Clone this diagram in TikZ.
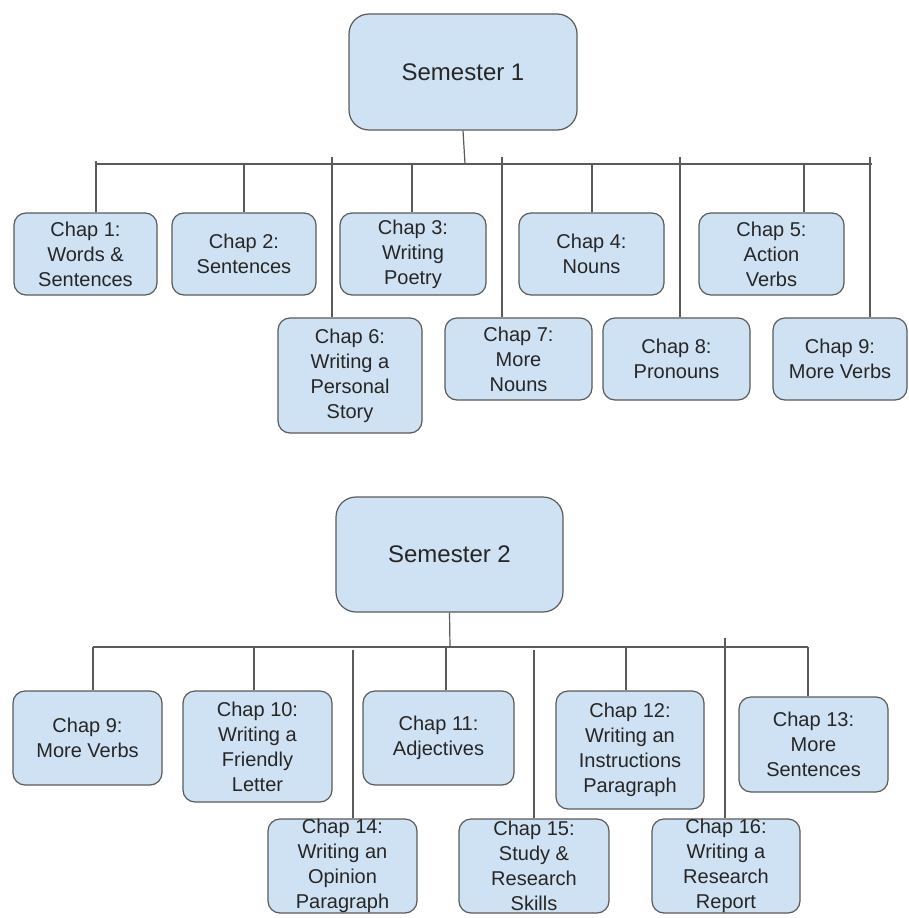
\documentclass[tikz,border=0pt]{standalone}
\usepackage{fontspec}
\setmainfont{Liberation Sans}
\definecolor{boxfill}{HTML}{CFE2F3}
\definecolor{boxline}{HTML}{5A5A5A}
\definecolor{txt}{HTML}{262626}
\begin{document}
\begin{tikzpicture}[x=1pt,y=-1pt,
  box/.style={draw=boxline, fill=boxfill, rounded corners=12pt, line width=1.2pt,
    align=center, inner sep=0pt, text=txt, font=\fontsize{20}{25}\selectfont},
  sem/.style={box, rounded corners=20pt, font=\fontsize{24}{29}\selectfont},
  wire/.style={draw=boxline, line width=1.2pt}]
\useasboundingbox (0,0) rectangle (909,918);

% ---------- Semester 1 ----------
\node[sem, minimum width=228pt, minimum height=116pt] (s1) at (463,72) {Semester 1};
\node[box, minimum width=143pt, minimum height=82pt] (c1) at (85.5,254) {Chap 1:\\Words \&\\Sentences};
\node[box, minimum width=144pt, minimum height=82pt] (c2) at (244,254) {Chap 2:\\Sentences};
\node[box, minimum width=146pt, minimum height=82pt] (c3) at (413,254) {Chap 3:\\Writing\\Poetry};
\node[box, minimum width=145pt, minimum height=82pt] (c4) at (591.5,254) {Chap 4:\\Nouns};
\node[box, minimum width=145pt, minimum height=82pt] (c5) at (771.5,254) {Chap 5:\\Action\\Verbs};
\node[box, minimum width=144pt, minimum height=115pt] (c6) at (350,375.5) {Chap 6:\\Writing a\\Personal\\Story};
\node[box, minimum width=147pt, minimum height=82pt] (c7) at (518.5,359) {Chap 7:\\More\\Nouns};
\node[box, minimum width=147pt, minimum height=82pt] (c8) at (676.5,359) {Chap 8:\\Pronouns};
\node[box, minimum width=134pt, minimum height=82pt] (c9) at (840,359) {Chap 9:\\More Verbs};

\coordinate (b1L) at (96,164);
\coordinate (b1R) at (872,164);
\coordinate (b1T) at (465,164);
\draw[wire] (b1L) -- (b1R);
\draw[wire] (s1.south) -- (b1T);
\coordinate (k1) at (96,161);
\coordinate (k2) at (244,164);
\coordinate (k3) at (412,164);
\coordinate (k4) at (592,164);
\coordinate (k5) at (804,164);
\coordinate (k6) at (332,157);
\coordinate (k7) at (502,157);
\coordinate (k8) at (680,157);
\coordinate (k9) at (870,157);
\foreach \i in {1,...,9} { \draw[wire] (k\i) -- (k\i |- c\i.north); }

% ---------- Semester 2 ----------
\node[sem, minimum width=227pt, minimum height=115pt] (s2) at (449.5,554.5) {Semester 2};
\node[box, minimum width=149pt, minimum height=94pt] (d9) at (87.5,738) {Chap 9:\\More Verbs};
\node[box, minimum width=149pt, minimum height=111pt] (d10) at (257.5,746.5) {Chap 10:\\Writing a\\Friendly\\Letter};
\node[box, minimum width=151pt, minimum height=94pt] (d11) at (438.5,738) {Chap 11:\\Adjectives};
\node[box, minimum width=148pt, minimum height=118pt] (d12) at (630,750) {Chap 12:\\Writing an\\Instructions\\Paragraph};
\node[box, minimum width=149pt, minimum height=95pt] (d13) at (813.5,744.5) {Chap 13:\\More\\Sentences};
\node[box, minimum width=149pt, minimum height=94pt] (d14) at (342.5,866) {Chap 14:\\Writing an\\Opinion\\Paragraph};
\node[box, minimum width=150pt, minimum height=94pt] (d15) at (534,866) {Chap 15:\\Study \&\\Research\\Skills};
\node[box, minimum width=148pt, minimum height=94pt] (d16) at (726,866) {Chap 16:\\Writing a\\Research\\Report};

\coordinate (b2L) at (93,647);
\coordinate (b2R) at (808,647);
\coordinate (b2T) at (450,647);
\draw[wire] (b2L) -- (b2R);
\draw[wire] (s2.south) -- (b2T);
\coordinate (m9) at (93,647);
\coordinate (m10) at (254,647);
\coordinate (m11) at (446,647);
\coordinate (m12) at (626,647);
\coordinate (m13) at (808,647);
\coordinate (m14) at (353,650);
\coordinate (m15) at (534,650);
\coordinate (m16) at (725,638);
\foreach \i in {9,...,16} { \draw[wire] (m\i) -- (m\i |- d\i.north); }
\end{tikzpicture}
\end{document}
